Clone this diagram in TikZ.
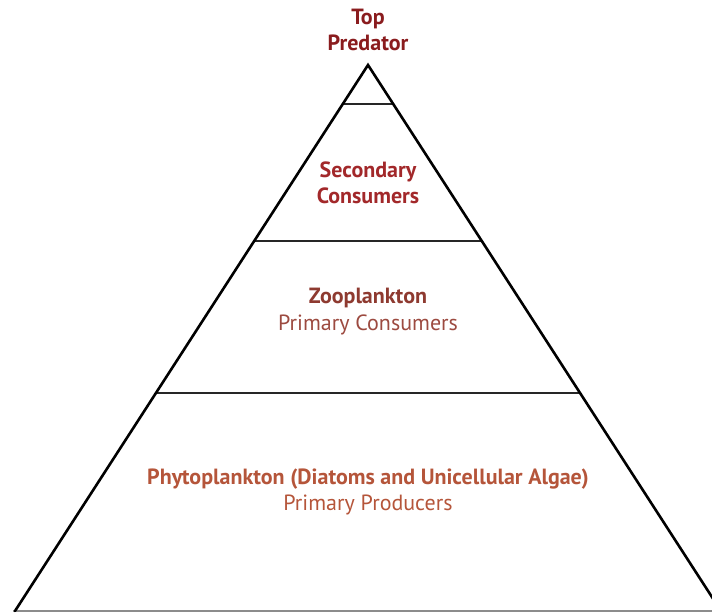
\documentclass[tikz,border=0pt]{standalone}
\usepackage{fontspec}
\setmainfont{PT Sans}
\usepackage{tikz}
\usetikzlibrary{positioning}
\definecolor{topred}{HTML}{8A1C1E}
\definecolor{secred}{HTML}{A2282A}
\definecolor{zoored}{HTML}{8E3A30}
\definecolor{zoolight}{HTML}{9C4A40}
\definecolor{phyto}{HTML}{B5553A}

\begin{document}
\begin{tikzpicture}[
  x=1pt, y=1pt,
  side/.style={line width=2.6pt, black, line cap=round},
  tier/.style={line width=1.8pt, black!85},
  label/.style={align=center, font=\fontsize{22}{25.5}\selectfont\bfseries,
    inner sep=0pt},
  sublabel/.style={align=center, font=\fontsize{22}{25.5}\selectfont,
    inner sep=0pt}
]
  \useasboundingbox (0,0) rectangle (712,613);
  \clip (0,0) rectangle (712,613);

  \coordinate (apex) at (368,548);
  \coordinate (leftfoot) at (15,2);
  \coordinate (rightfoot) at (721,2);

  % tier boundaries
  \coordinate (t1l) at (343,509);  \coordinate (t1r) at (393,509);
  \coordinate (t2l) at (254,372);  \coordinate (t2r) at (482,372);
  \coordinate (t3l) at (156,220);  \coordinate (t3r) at (580,220);

  \draw[tier] (t1l) -- (t1r);
  \draw[tier] (t2l) -- (t2r);
  \draw[tier] (t3l) -- (t3r);

  \coordinate (baseL) at (13,2);
  \coordinate (baseR) at (712,2);
  \draw[line width=1.6pt, black!45] (baseL) -- (baseR);

  \draw[side] (leftfoot) -- (apex) -- (rightfoot);

  \node[label, text=topred] (top) at (368,583) {Top\\Predator};
  \node[label, text=secred] (second) at (368,430) {Secondary\\Consumers};
  \node[label, text=zoored] (zoo) at (368,315) {Zooplankton};
  \node[sublabel, text=zoolight] (zoosub) at (368,288) {Primary Consumers};
  \node[label, text=phyto] (phy) at (368,134) {Phytoplankton (Diatoms and Unicellular Algae)};
  \node[sublabel, text=phyto] (physub) at (368,108) {Primary Producers};
\end{tikzpicture}
\end{document}
